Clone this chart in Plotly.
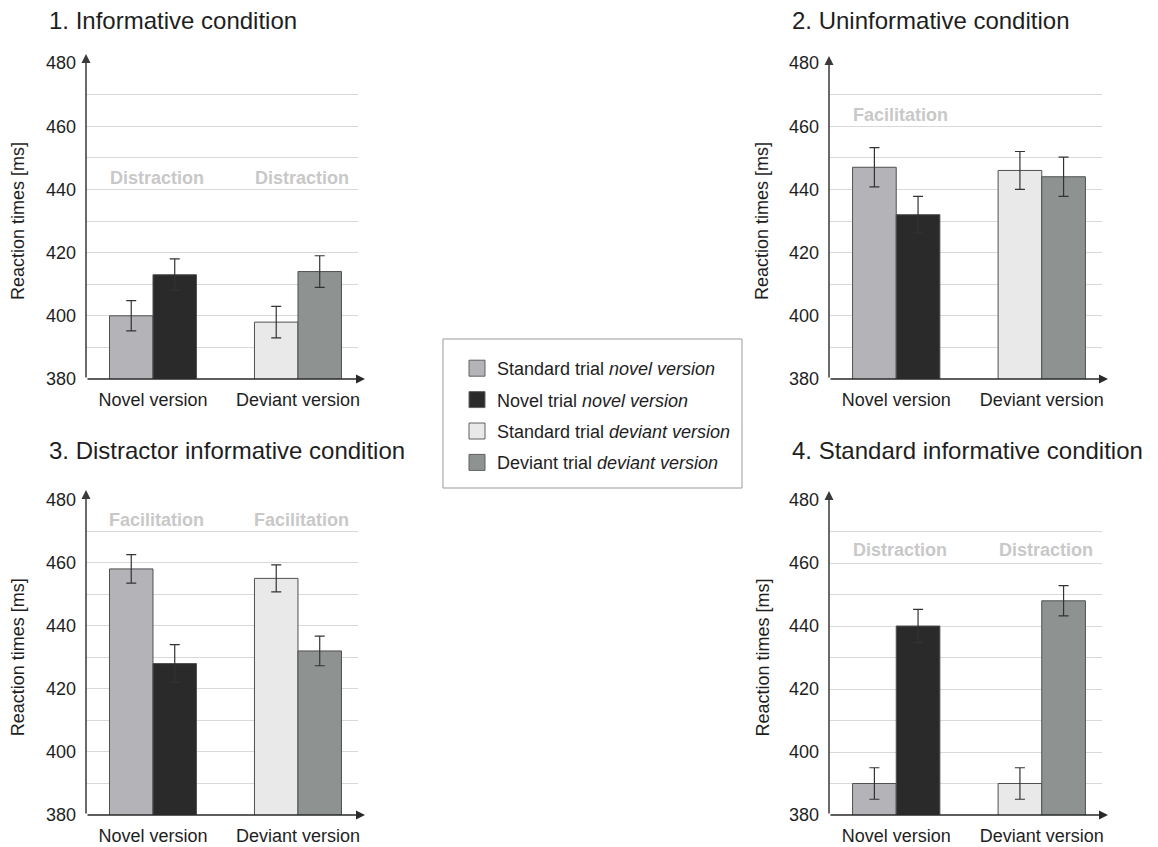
import plotly.graph_objects as go

W, H = 1158, 847

panel_titles = ["1. Informative condition", "2. Uninformative condition",
                "3. Distractor informative condition", "4. Standard informative condition"]
versions = ["Novel version", "Deviant version"]
series_names = ["Standard trial <i>novel version</i>", "Novel trial <i>novel version</i>",
                "Standard trial <i>deviant version</i>", "Deviant trial <i>deviant version</i>"]

# reaction times [ms] per condition (panels 1-4)
std_novel = [400, 447, 458, 390]
novel_novel = [413, 432, 428, 440]
std_deviant = [398, 446, 455, 390]
deviant_deviant = [414, 444, 432, 448]
err_std_novel = [4.8, 6.2, 4.5, 5.0]
err_novel_novel = [5.0, 5.8, 6.0, 5.3]
err_std_deviant = [5.0, 6.0, 4.3, 5.0]
err_deviant_deviant = [5.0, 6.2, 4.7, 4.8]

effect_labels = [["Distraction", "Distraction"], ["Facilitation", ""],
                 ["Facilitation", "Facilitation"], ["Distraction", "Distraction"]]
effect_label_y = [443.5, 463.5, 473.5, 464]
y_ticks = [380, 400, 420, 440, 460, 480]

colors = ["#b4b4b8", "#2a2a2a", "#e9e9e9", "#8e9392"]
FONT = "Liberation Sans, Arial, sans-serif"
TXT = "#1e1e1e"
FS = 18

# panel pixel boxes: x0, x1, ytop(480), ybottom(380)
boxes = [(86, 358, 63, 379), (829, 1102, 63, 379), (86, 358, 499.5, 815), (829, 1102, 500, 815)]
title_pos = [(47, 20), (790, 20), (47, 450), (790, 450)]
ytitle_x = [18, 762, 18, 762]
arrow_y_tip = [54, 56, 490, 491]
arrow_x_tip = [365, 1108, 365, 1108]

fig = go.Figure()
annotations = []
layout_axes = {}

for i in range(4):
    n = "" if i == 0 else str(i + 1)
    xa, ya = "x" + n, "y" + n
    x0, x1, yt, yb = boxes[i]
    fig.add_trace(go.Bar(
        x=versions, y=[std_novel[i], std_deviant[i]], xaxis=xa, yaxis=ya,
        marker=dict(color=[colors[0], colors[2]], line=dict(color="#505050", width=1)),
        error_y=dict(type="data", array=[err_std_novel[i], err_std_deviant[i]],
                     color="#333333", thickness=1.2, width=5),
        showlegend=False, hoverinfo="skip"))
    fig.add_trace(go.Bar(
        x=versions, y=[novel_novel[i], deviant_deviant[i]], xaxis=xa, yaxis=ya,
        marker=dict(color=[colors[1], colors[3]], line=dict(color="#505050", width=1)),
        error_y=dict(type="data", array=[err_novel_novel[i], err_deviant_deviant[i]],
                     color="#333333", thickness=1.2, width=5),
        showlegend=False, hoverinfo="skip"))
    layout_axes["xaxis" + n] = dict(
        domain=[x0 / W, x1 / W], range=[-0.462, 1.414], anchor=ya,
        showgrid=False, showline=False, zeroline=False, ticks="",
        tickfont=dict(size=FS, family=FONT, color=TXT), ticklabelstandoff=8,
        automargin=False, fixedrange=True)
    layout_axes["yaxis" + n] = dict(
        domain=[1 - yb / H, 1 - yt / H], range=[380, 480], anchor=xa,
        tickmode="array", tickvals=y_ticks, ticks="",
        showgrid=True, gridcolor="#d9d9d9", gridwidth=1,
        minor=dict(tickmode="linear", tick0=380, dtick=10, showgrid=True,
                   gridcolor="#d9d9d9", gridwidth=1),
        showline=False, zeroline=False,
        tickfont=dict(size=FS, family=FONT, color=TXT), ticklabelstandoff=9,
        automargin=False, fixedrange=True)
    # panel title
    annotations.append(dict(text=panel_titles[i], xref="paper", yref="paper",
                            x=title_pos[i][0] / W, y=1 - title_pos[i][1] / H,
                            xanchor="left", yanchor="middle", showarrow=False,
                            font=dict(size=24, family=FONT, color=TXT)))
    # y title
    annotations.append(dict(text="Reaction times [ms]", xref="paper", yref="paper",
                            x=ytitle_x[i] / W, y=1 - (yt + yb) / 2 / H, textangle=-90,
                            xanchor="center", yanchor="middle", showarrow=False,
                            font=dict(size=FS, family=FONT, color=TXT)))
    # effect labels
    for j, lab in enumerate(effect_labels[i]):
        if lab:
            annotations.append(dict(text="<b>" + lab + "</b>", xref=xa, yref=ya,
                                    x=versions[j], y=effect_label_y[i], xshift=4,
                                    showarrow=False,
                                    font=dict(size=FS, family=FONT, color="#c8c8c8")))
    # axes with arrows
    annotations.append(dict(text="", xref="paper", yref="paper",
                            x=arrow_x_tip[i] / W, y=1 - yb / H,
                            ax=-(arrow_x_tip[i] - x0), ay=0, axref="pixel", ayref="pixel",
                            showarrow=True, arrowhead=2, arrowsize=1.2, arrowwidth=1.5,
                            arrowcolor="#2a2a2a", standoff=0, startstandoff=0))
    annotations.append(dict(text="", xref="paper", yref="paper",
                            x=x0 / W, y=1 - arrow_y_tip[i] / H,
                            ax=0, ay=(yb - arrow_y_tip[i]), axref="pixel", ayref="pixel",
                            showarrow=True, arrowhead=2, arrowsize=1.2, arrowwidth=1.5,
                            arrowcolor="#3a3a3a", standoff=0, startstandoff=0))

# legend entries
for k in range(4):
    fig.add_trace(go.Scatter(
        x=[None], y=[None], mode="markers", name=series_names[k],
        legendgroup="g%d" % k,
        marker=dict(symbol="square", size=16, color=colors[k],
                    line=dict(color="#606060", width=1))))

fig.update_layout(
    width=W, height=H,
    margin=dict(l=0, r=0, t=0, b=0, autoexpand=False),
    paper_bgcolor="white", plot_bgcolor="white",
    barmode="group", bargap=0.4, bargroupgap=0,
    font=dict(family=FONT, color=TXT),
    showlegend=True,
    legend=dict(x=457 / W, y=1 - 350 / H, xanchor="left", yanchor="top",
                bgcolor="rgba(0,0,0,0)", borderwidth=0, itemsizing="trace",
                tracegroupgap=5, font=dict(size=FS, family=FONT, color=TXT)),
    annotations=annotations,
    shapes=[dict(type="rect", xref="paper", yref="paper",
                 x0=443 / W, x1=742 / W, y0=1 - 488 / H, y1=1 - 339 / H,
                 line=dict(color="#9a9a9a", width=1), fillcolor="rgba(0,0,0,0)")],
    **layout_axes)

fig.write_html("out.html", config={"displayModeBar": False},
               post_script="document.body.style.margin='0';document.body.style.overflow='hidden';")
